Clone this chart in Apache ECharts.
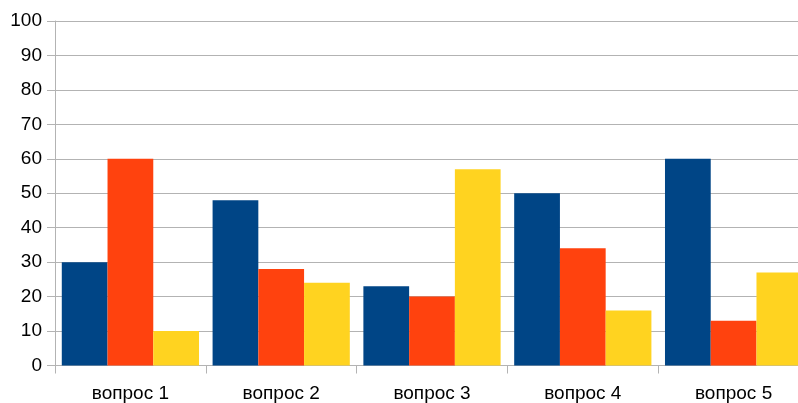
<!DOCTYPE html>
<html>
<head>
<meta charset="utf-8">
<script src="https://cdn.jsdelivr.net/npm/echarts@6/dist/echarts.min.js"></script>
<style>
html,body{margin:0;padding:0;background:#fff;}
#chart{width:798px;height:403px;}
</style>
</head>
<body>
<div id="chart"></div>
<script>
const categories = ["вопрос 1", "вопрос 2", "вопрос 3", "вопрос 4", "вопрос 5"];
const series1 = [30, 48, 23, 50, 60];
const series2 = [60, 28, 20, 34, 13];
const series3 = [10, 24, 57, 16, 27];
const yTicks = [0, 100, 10];

const chart = echarts.init(document.getElementById('chart'), null, {renderer: 'canvas'});
const font = 'Liberation Sans, Arial, sans-serif';
const mkSeries = (data, color) => ({
  type: 'bar',
  data: data,
  barGap: '0%',
  barCategoryGap: '9%',
  itemStyle: {color: color},
  emphasis: {disabled: true},
  animation: false
});
chart.setOption({
  animation: false,
  grid: {left: 55, width: 754, top: 21, height: 344.5, containLabel: false, outerBoundsMode: 'none'},
  xAxis: {
    type: 'category',
    data: categories,
    axisLine: {show: true, lineStyle: {color: '#b3b3b3', width: 1}},
    axisTick: {show: true, length: 8, lineStyle: {color: '#b3b3b3'}},
    axisLabel: {color: '#000', fontSize: 19, fontFamily: font, margin: 19}
  },
  yAxis: {
    type: 'value',
    min: yTicks[0],
    max: yTicks[1],
    interval: yTicks[2],
    axisLine: {show: true, lineStyle: {color: '#b3b3b3', width: 1}},
    axisTick: {show: true, length: 8, lineStyle: {color: '#b3b3b3'}},
    axisLabel: {color: '#000', fontSize: 19, fontFamily: font, margin: 13},
    splitLine: {show: true, lineStyle: {color: '#b3b3b3', width: 1}}
  },
  series: [
    mkSeries(series1, '#004586'),
    mkSeries(series2, '#ff420e'),
    mkSeries(series3, '#ffd320')
  ]
});
</script>
</body>
</html>
